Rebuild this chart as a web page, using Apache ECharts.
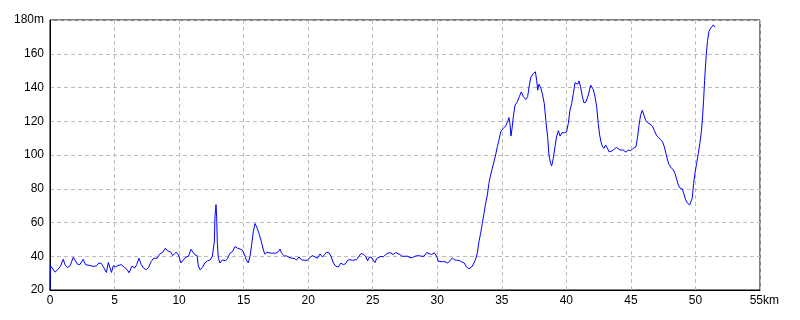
<!DOCTYPE html>
<html>
<head>
<meta charset="utf-8">
<script src="https://cdn.jsdelivr.net/npm/echarts@6/dist/echarts.min.js"></script>
<style>
html,body{margin:0;padding:0;background:#fff;}
#c{width:800px;height:320px;}
</style>
</head>
<body>
<div id="c"></div>
<script>
var distanceKm = [0,0.03,0.39,0.59,0.8,1.03,1.16,1.36,1.57,1.8,1.93,2.13,2.31,2.57,2.75,2.9,3.11,3.34,3.6,3.78,3.98,4.16,4.37,4.52,4.65,4.76,4.91,5.09,5.27,5.53,5.78,5.99,6.12,6.35,6.56,6.71,6.89,7.07,7.25,7.46,7.63,7.84,8.02,8.3,8.48,8.74,8.92,9.13,9.33,9.51,9.77,9.95,10.15,10.33,10.54,10.72,10.92,
11.02,11.23,11.39,11.49,11.62,11.8,12.0,12.2,12.4,12.57,12.65,12.73,12.78,12.86,12.91,12.96,13.04,13.17,13.35,13.5,13.6,13.76,13.94,14.13,14.33,14.54,14.72,14.9,15.05,15.21,15.36,15.49,15.62,15.75,15.88,16.01,16.19,16.34,16.53,16.65,16.81,16.96,17.12,17.3,17.48,17.69,17.82,17.94,18.15,18.33,18.51,18.72,18.9,19.1,19.29,19.49,19.7,19.91,20.14,20.32,20.53,20.71,20.92,21.1,21.25,21.43,
21.61,21.77,21.95,22.13,22.33,22.54,22.72,22.9,23.06,23.24,23.42,23.57,23.75,23.88,24.09,24.27,24.45,24.6,24.71,24.87,25.05,25.17,25.3,25.43,25.64,25.82,26.0,26.21,26.41,26.59,26.78,26.93,27.11,27.29,27.5,27.71,27.89,28.07,28.27,28.48,28.61,28.79,28.97,29.18,29.36,29.56,29.77,29.95,30.08,30.21,30.39,30.6,30.8,30.98,31.16,31.32,31.5,31.68,31.89,32.09,32.27,32.45,32.66,32.84,
32.97,33.1,33.23,33.36,33.49,33.62,33.75,33.88,34.0,34.13,34.26,34.39,34.52,34.65,34.78,34.91,35.11,35.29,35.45,35.55,35.63,35.71,35.81,35.89,36.02,36.2,36.35,36.51,36.67,36.85,37.0,37.13,37.26,37.44,37.6,37.7,37.78,37.88,38.01,38.16,38.29,38.42,38.55,38.65,38.78,38.86,38.99,39.12,39.25,39.38,39.51,39.66,39.84,40.02,40.15,40.28,40.41,40.54,40.67,40.8,40.88,40.98,41.1,41.23,41.36,41.52,41.7,41.88,41.98,42.09,42.22,
42.35,42.47,42.58,42.68,42.78,42.91,43.04,43.17,43.3,43.51,43.69,43.87,44.02,44.2,44.41,44.62,44.8,44.98,45.13,45.26,45.39,45.52,45.63,45.75,45.88,46.01,46.14,46.3,46.48,46.66,46.81,46.97,47.12,47.3,47.45,47.59,47.71,47.84,47.95,48.1,48.28,48.41,48.54,48.67,48.82,48.98,49.11,49.24,49.39,49.55,49.65,49.75,49.86,49.96,50.09,50.22,50.34,50.47,50.55,50.63,50.71,50.79,50.86,50.94,51.05,51.15,51.25,51.38,51.51];

var elevationM = [20,34.5,30.6,32,34,38.2,35,33.3,34.5,39.4,38.8,35.3,35,38.2,35,36,34.5,34,34.3,36,35.7,33.3,30.4,36.3,35.3,30.4,34.5,33.7,34.5,35,33.3,32,30.2,34.1,33,35,38.8,35,33,32,33.3,36.9,38.8,38.8,41.2,42.4,44.7,43.1,42.7,40.4,42.4,40.8,36,37.8,39.6,39.8,44.1,
43.7,40.8,40.4,34.3,32,33.3,36,37.3,37.8,39.8,40.2,48.6,63.3,70.6,63.3,48.6,38.8,36,37.8,38.8,37.3,38.8,41.8,42.7,45.7,44.7,44.3,43.7,41.2,37.8,36,39.8,46.7,54.5,59.4,57.5,53.5,49.6,43.7,41.2,42.4,43.1,41.8,41.8,41.8,42.7,44.3,41.8,40.2,40.2,39.4,38.8,38.8,37.8,39.6,37.8,37.6,37.6,39.2,40.4,39.6,38.8,41.4,39.6,40.8,42.4,
42,40,36,34.2,33.6,36,35,35.6,37.6,38,37.6,37.6,38,38.6,41.6,41.2,40,37.2,39.2,39.6,37.6,36.2,38.6,39.6,40,39.6,41,42,42,41,42.2,42,41,40,40,40,39.2,39.2,40,40.4,41.2,40,40,42.2,41.6,41,42,40,37,36,36.8,36.8,36,37.2,39,38,37.6,37.6,36.6,36,33.6,32.6,33.6,36,
38.2,41.8,48.7,53.6,59.5,65.4,71.4,76.3,83.2,88.1,92.1,96,100,104.9,108.8,113.8,115.7,117.1,119.7,122.2,118.7,111.2,116.7,122.6,129.5,131.5,134.5,137.4,134.5,132.9,134.5,141.4,146.3,148.3,149.3,144.3,138.4,142,140,135.5,130.5,119.7,110.8,100,95,93.5,98,104.9,111.2,114.4,111.2,113.2,113.2,113.8,118.7,126.6,130.5,136.4,142.8,143.4,142,143.9,140.4,134.9,130.9,131.5,135.5,141.4,142,138.8,134.5,
128.5,118.7,111.8,107.8,105.3,103.9,105.9,104.3,101.9,102.3,103.3,104.5,103.9,102.9,102.9,101.7,102.9,102.5,103.7,102.9,104.9,110.8,117.7,123.6,126.5,123.6,120.6,119.1,118.3,117.1,114.7,111.8,110.4,109.2,107.8,104.9,100.9,97,94.4,92.7,91.1,89.1,85.8,82.2,80.3,79.9,76.9,73.4,71.4,70.4,69.8,74.4,83.2,89.1,95,100.9,106.9,114.7,122.6,132.4,144.3,154.1,161.6,167.9,173.4,174.8,175.7,177.1,175.7];

var xMin = 0, xMax = 55, xStep = 5, xUnit = 'km';
var yMin = 20, yMax = 180, yStep = 20, yUnit = 'm';

var seriesData = distanceKm.map(function (d, i) { return [d, elevationM[i]]; });

var chart = echarts.init(document.getElementById('c'), null, {renderer: 'canvas'});
var fontFam = '"Liberation Sans", Arial, sans-serif';
chart.setOption({
  animation: false,
  backgroundColor: '#ffffff',
  grid: {left: 50, top: 20, right: 40, bottom: 30, show: true, borderColor: '#000', borderWidth: 1, backgroundColor: 'transparent'},
  xAxis: {
    type: 'value', min: xMin, max: xMax, interval: xStep,
    axisLine: {show: true, lineStyle: {color: '#000', width: 1}},
    axisTick: {show: false},
    axisLabel: {
      color: '#000', fontSize: 12, fontFamily: fontFam, margin: 5,
      formatter: function (v) { return v === xMax ? '{u|' + v + xUnit + '}' : String(v); },
      rich: {u: {width: 38, align: 'right', color: '#000', fontSize: 12, fontFamily: fontFam}}
    },
    splitLine: {show: true, lineStyle: {color: '#bdbdbd', type: [4, 3], width: 1}}
  },
  yAxis: {
    type: 'value', min: yMin, max: yMax, interval: yStep,
    axisLine: {show: true, lineStyle: {color: '#000', width: 1}},
    axisTick: {show: false},
    axisLabel: {
      color: '#000', fontSize: 12, fontFamily: fontFam, margin: 6,
      formatter: function (v) { return v === yMax ? v + yUnit : String(v); }
    },
    splitLine: {show: true, lineStyle: {color: '#bdbdbd', type: [4, 3], width: 1}}
  },
  series: [{
    type: 'line',
    data: seriesData,
    showSymbol: false,
    symbol: 'none',
    lineStyle: {color: '#0000ff', width: 1},
    itemStyle: {color: '#0000ff'},
    z: 5
  }]
});
</script>
</body>
</html>
